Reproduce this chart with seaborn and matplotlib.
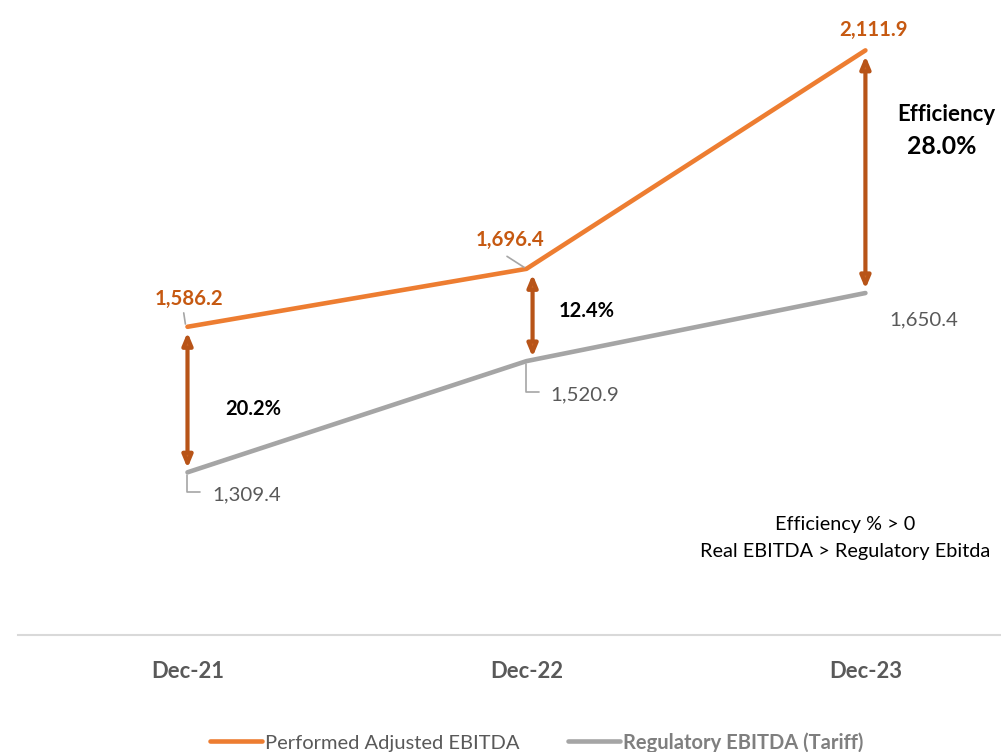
import matplotlib.pyplot as plt
import seaborn as sns
import pandas as pd

periods = ['Dec-21', 'Dec-22', 'Dec-23']
adjusted_ebitda = [1586.2, 1696.4, 2111.9]
regulatory_ebitda = [1309.4, 1520.9, 1650.4]
efficiency = ['20.2%', '12.4%', '28.0%']
series_names = ['Performed Adjusted EBITDA', 'Regulatory EBITDA (Tariff)']

orange = '#ED7D31'
gray = '#A5A5A5'
orange_txt = '#C65911'
gray_txt = '#595959'
arrow_col = '#CC6424'

sns.set_theme(style='white')
plt.rcParams['font.family'] = ['Lato', 'DejaVu Sans']

df = pd.DataFrame({
    'pos': list(range(len(periods))) * 2,
    'value': adjusted_ebitda + regulatory_ebitda,
    'series': [series_names[0]] * 3 + [series_names[1]] * 3,
})

fig = plt.figure(figsize=(10.01, 7.52), dpi=100)
ax = fig.add_axes([0.018, 0.1556, 0.982, 0.839])
sns.lineplot(data=df, x='pos', y='value', hue='series', palette=[orange, gray],
             linewidth=3.3, sort=False, ax=ax, legend=True)
handles, labels = ax.get_legend_handles_labels()
ax.get_legend().remove()

ax.set_xlim(-0.5, 2.4)
ax.set_ylim(1000, 2200)
ax.set_xticks(range(len(periods)))
ax.set_xticklabels(periods, fontsize=15.8, fontweight='bold', color=gray_txt)
ax.set_yticks([])
ax.tick_params(axis='x', length=0, pad=19)
ax.set_xlabel('')
ax.set_ylabel('')
for s in ['top', 'left', 'right']:
    ax.spines[s].set_visible(False)
ax.spines['bottom'].set_color('#D9D9D9')
ax.spines['bottom'].set_linewidth(1.5)

lead = dict(arrowstyle='-', color='#A6A6A6', lw=1.2, shrinkA=0, shrinkB=2)

# orange data labels
ax.annotate(f'{adjusted_ebitda[0]:,.1f}', xy=(0, adjusted_ebitda[0]), xytext=(1, 20),
            textcoords='offset points', ha='center', va='center', fontsize=14.7,
            fontweight='bold', color=orange_txt)
ax.annotate('', xy=(-0.005, adjusted_ebitda[0]), xytext=(-1.5, 10),
            textcoords='offset points', arrowprops=lead)
ax.annotate(f'{adjusted_ebitda[1]:,.1f}', xy=(1, adjusted_ebitda[1]), xytext=(-12, 21),
            textcoords='offset points', ha='center', va='center', fontsize=14.7,
            fontweight='bold', color=orange_txt)
ax.annotate('', xy=(1, adjusted_ebitda[1]), xytext=(-14, 9),
            textcoords='offset points', arrowprops=lead)
ax.annotate(f'{adjusted_ebitda[2]:,.1f}', xy=(2, adjusted_ebitda[2]), xytext=(6, 14.5),
            textcoords='offset points', ha='center', va='center', fontsize=14.7,
            fontweight='bold', color=orange_txt)

# gray data labels
gray_offsets = [(43, -16), (42, -24), (42, -19)]
for i, v in enumerate(regulatory_ebitda):
    ax.annotate(f'{v:,.1f}', xy=(i, v), xytext=gray_offsets[i],
                textcoords='offset points', ha='center', va='center',
                fontsize=14.7, color=gray_txt)
ax.annotate('', xy=(0, regulatory_ebitda[0]), xytext=(9, -14.5),
            textcoords='offset points',
            arrowprops=dict(arrowstyle='-', color='#A6A6A6', lw=1.2, shrinkA=0, shrinkB=2,
                            connectionstyle='angle,angleA=0,angleB=90,rad=0'))
ax.annotate('', xy=(1, regulatory_ebitda[1]), xytext=(9, -22),
            textcoords='offset points',
            arrowprops=dict(arrowstyle='-', color='#A6A6A6', lw=1.2, shrinkA=0, shrinkB=2,
                            connectionstyle='angle,angleA=0,angleB=90,rad=0'))

# double arrows showing efficiency gap
arrow_x = [0, 1.018, 2]
for i, x in enumerate(arrow_x):
    ax.annotate('', xy=(x, regulatory_ebitda[i]), xytext=(x, adjusted_ebitda[i]),
                arrowprops=dict(arrowstyle='<|-|>,head_length=0.6,head_width=0.25',
                                facecolor=arrow_col, edgecolor='#B85418', lw=3.0,
                                shrinkA=4, shrinkB=3))

mid = [(a + r) / 2 for a, r in zip(adjusted_ebitda, regulatory_ebitda)]
ax.annotate(efficiency[0], xy=(0, mid[0]), xytext=(47, -7), textcoords='offset points',
            ha='center', va='center', fontsize=14.5, fontweight='bold', color='black')
ax.annotate(efficiency[1], xy=(1, mid[1]), xytext=(43, 3), textcoords='offset points',
            ha='center', va='center', fontsize=14.5, fontweight='bold', color='black')
ax.annotate('Efficiency', xy=(2, mid[2]), xytext=(58, 41), textcoords='offset points',
            ha='center', va='center', fontsize=16, fontweight='bold', color='black')
ax.annotate(efficiency[2], xy=(2, mid[2]), xytext=(55, 18), textcoords='offset points',
            ha='center', va='center', fontsize=17.8, fontweight='bold', color='black')

fig.text(0.844, 0.302, 'Efficiency % > 0', ha='center', va='center', fontsize=14.3, color='black')
fig.text(0.844, 0.267, 'Real EBITDA > Regulatory Ebitda', ha='center', va='center',
         fontsize=14.3, color='black')

leg = fig.legend(handles, labels, loc='center', bbox_to_anchor=(0.536, 0.013), ncol=2,
                 frameon=False, fontsize=14.5, handlelength=2.6, handletextpad=0.15,
                 columnspacing=2.4)
for t in leg.get_texts():
    t.set_color(gray_txt)
leg.get_texts()[1].set_fontweight('bold')
leg.get_texts()[1].set_color('#7F7F7F')

fig.savefig('out.png', dpi=100)
